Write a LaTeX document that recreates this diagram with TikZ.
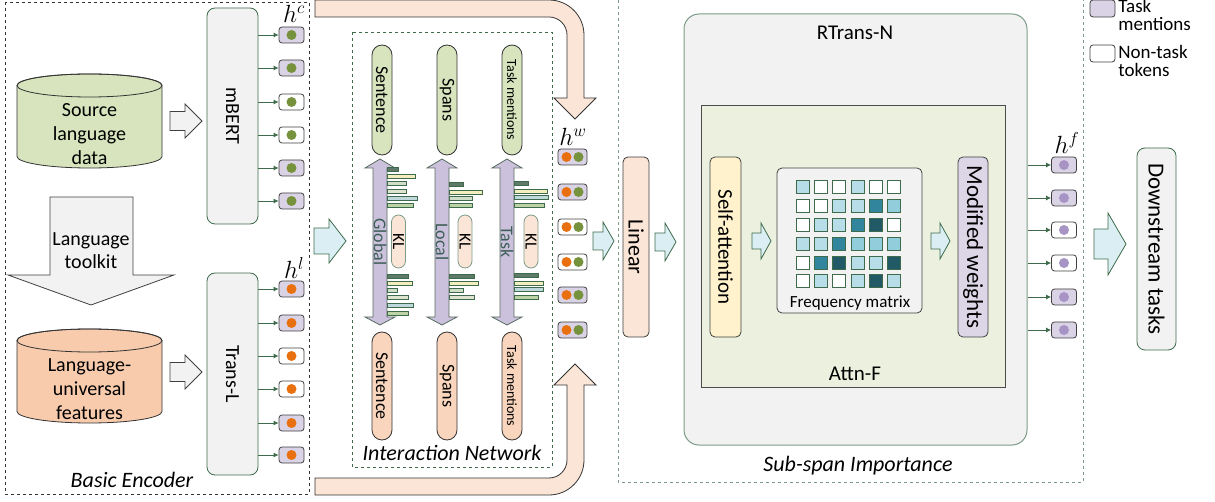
\documentclass[tikz,border=0pt]{standalone}
\usepackage{fontspec}
\setmainfont{Carlito}
\usepackage{graphicx}
\usetikzlibrary{arrows.meta}

\definecolor{grayfill}{HTML}{F2F2F2}
\definecolor{greenfill}{HTML}{D7E4BD}
\definecolor{orangefill}{HTML}{F8CBAD}
\definecolor{peachfill}{HTML}{FBE5D6}
\definecolor{bluefill}{HTML}{DAEEF3}
\definecolor{tokfill}{HTML}{DAD3E5}
\definecolor{attnfill}{HTML}{EBF1DE}
\definecolor{selffill}{HTML}{FFF2CC}
\definecolor{modfill}{HTML}{DDD6E7}
\definecolor{dblfill}{HTML}{CBC1DC}
\definecolor{edgegreen}{HTML}{3E6B4C}
\definecolor{framegreen}{HTML}{7C9C88}
\definecolor{dotgreen}{HTML}{76923C}
\definecolor{dotorange}{HTML}{E8700F}
\definecolor{dotpurple}{HTML}{A793C4}
\definecolor{labgreen}{HTML}{3D5E57}
\definecolor{barA}{HTML}{5F7A69}
\definecolor{barB}{HTML}{F3EEBD}
\definecolor{barC}{HTML}{CFDDC9}
\definecolor{barD}{HTML}{DFE4D0}
\definecolor{barE}{HTML}{BFD8DB}
\definecolor{barF}{HTML}{BCD3A6}
\definecolor{mW}{HTML}{FFFFFF}
\definecolor{mL}{HTML}{B7DEE8}
\definecolor{mM}{HTML}{92CDDC}
\definecolor{mD}{HTML}{31859C}
\definecolor{mE}{HTML}{215967}

% block arrow pointing right: style, x start, x head, x tip, y, shaft half, head half
\newcommand{\rblock}[7]{%
  \draw[#1] (#2,#5-#6) -- (#3,#5-#6) -- (#3,#5-#7) -- (#4,#5)
    -- (#3,#5+#7) -- (#3,#5+#6) -- (#2,#5+#6) -- cycle;}

\begin{document}
\begin{tikzpicture}[x=1pt,y=-1pt,line width=0.8pt,
  lbl/.style={font=\fontsize{20}{24}\selectfont, align=center},
  capt/.style={font=\fontsize{22}{26}\selectfont\itshape},
  hlabel/.style={font=\fontsize{24}{28}\selectfont},
  legtext/.style={font=\fontsize{19}{18}\selectfont, align=left, anchor=west, inner sep=1pt},
  encbox/.style={draw=edgegreen, fill=grayfill, rounded corners=8pt, inner sep=0pt, font=\fontsize{20}{24}\selectfont},
  innerbox/.style={draw=black!75, rounded corners=5pt, inner sep=0pt},
  menttok/.style={draw=black!75, fill=tokfill, rounded corners=3pt, minimum width=25pt, minimum height=16pt, inner sep=0pt},
  othertok/.style={menttok, fill=white},
  tokarrow/.style={draw=edgegreen, -{Latex[length=5pt,width=5pt]}},
  cyl/.style={draw=black!80},
  gblock/.style={draw=black!75, fill=grayfill},
  bblock/.style={draw=edgegreen, fill=bluefill},
  oband/.style={draw=black!80, fill=peachfill},
  pill/.style={draw=black!80, rounded corners=10pt, minimum width=20pt, inner sep=0pt, font=\fontsize{18}{20}\selectfont},
  klpill/.style={draw=framegreen, fill=peachfill, rounded corners=7pt, minimum width=14pt, minimum height=53pt, inner sep=0pt, font=\fontsize{17}{20}\selectfont},
  dbl/.style={draw=framegreen!70!black, fill=dblfill},
  bar/.style={draw=edgegreen, line width=0.6pt},
  cell/.style={draw=edgegreen, line width=1pt}]

\useasboundingbox (0,0) rectangle (1215,502);

% frames
\draw[dashed, black!80] (5,2) rectangle (309,494);
\node[capt] (enc) at (132,480) {Basic Encoder};
\draw[dashed, edgegreen] (352,32) rectangle (552,467);
\node[capt] (inet) at (452,453) {Interaction Network};
\draw[dashed, framegreen] (618,0) -- (618,482) -- (1083,482) -- (1083,0);
\node[capt] (ssi) at (858,466) {Sub-span Importance};

% basic encoder
\draw[cyl, fill=greenfill] (17,85.5) -- (17,156.5) arc[start angle=180, end angle=0, x radius=72.5, y radius=11.5]
  -- (162,85.5) arc[start angle=0, end angle=-180, x radius=72.5, y radius=11.5] -- cycle;
\draw[cyl] (89.5,85.5) ellipse [x radius=72.5, y radius=11.5];
\node[lbl] (src) at (89.5,134) {Source\\language\\data};

\draw[cyl, fill=orangefill] (17,340.5) -- (17,411.5) arc[start angle=180, end angle=0, x radius=72.5, y radius=11.5]
  -- (162,340.5) arc[start angle=0, end angle=-180, x radius=72.5, y radius=11.5] -- cycle;
\draw[cyl] (89.5,340.5) ellipse [x radius=72.5, y radius=11.5];
\node[lbl] (feat) at (89.5,389) {Language-\\universal\\features};

\draw[gblock] (50,197) -- (133,197) -- (133,275) -- (174,275) -- (91,305) -- (8,275) -- (50,275) -- cycle;
\node[lbl, font=\fontsize{20}{23}\selectfont] (ltk) at (91,251) {Language\\toolkit};

\rblock{gblock}{170}{185}{202}{121}{9.5}{17}
\rblock{gblock}{170}{185}{202}{372}{9.5}{17}

\node[encbox, minimum width=51pt, minimum height=216pt] (mbert) at (232.5,116) {\rotatebox{-90}{mBERT}};
\node[encbox, minimum width=51pt, minimum height=202pt] (transl) at (232.5,374) {\rotatebox{-90}{Trans-L}};

\node[menttok] (c1) at (291.5,35) {};
\node[menttok] (c2) at (291.5,68) {};
\node[othertok] (c3) at (291.5,102) {};
\node[othertok] (c4) at (291.5,135) {};
\node[menttok] (c5) at (291.5,168) {};
\node[menttok] (c6) at (291.5,201) {};
\node[hlabel] (hc) at (294,14) {$h^c$};

\node[menttok] (l1) at (291.5,289) {};
\node[menttok] (l2) at (291.5,323) {};
\node[othertok] (l3) at (291.5,356) {};
\node[othertok] (l4) at (291.5,389) {};
\node[menttok] (l5) at (291.5,423) {};
\node[menttok] (l6) at (291.5,455) {};
\node[hlabel] (hl) at (294,268) {$h^l$};

\foreach \i in {1,...,6} {
  \draw[tokarrow] (mbert.east |- c\i) -- (c\i);
  \fill[dotgreen] (c\i) circle (5);
  \draw[tokarrow] (transl.east |- l\i) -- (l\i);
  \fill[dotorange] (l\i) circle (5);
}

\rblock{bblock}{314}{329}{346}{241}{13}{22}

% orange bands
\draw[oband] (315,0) -- (549,0) arc[start angle=270, end angle=360, radius=35] -- (584,98) -- (596,98)
  -- (575,119) -- (554,98) -- (567,98) -- (567,35) arc[start angle=360, end angle=270, radius=18] -- (315,17) -- cycle;
\draw[oband] (315,495) -- (549,495) arc[start angle=90, end angle=0, radius=35] -- (584,385) -- (596,385)
  -- (575,364) -- (554,385) -- (567,385) -- (567,460) arc[start angle=0, end angle=90, radius=18] -- (315,478) -- cycle;

% interaction network
\node[pill, fill=greenfill, minimum height=110pt] (gsent) at (382,100) {\rotatebox{-90}{Sentence}};
\node[pill, fill=greenfill, minimum height=110pt] (gspan) at (447,100) {\rotatebox{-90}{Spans}};
\node[pill, fill=greenfill, minimum height=110pt] (gtask) at (512,100) {\rotatebox{-90}{\fontsize{14}{16}\selectfont Task mentions}};
\node[pill, fill=orangefill!80, minimum height=108pt] (osent) at (382,386) {\rotatebox{-90}{Sentence}};
\node[pill, fill=orangefill!80, minimum height=108pt] (ospan) at (447,386) {\rotatebox{-90}{Spans}};
\node[pill, fill=orangefill!80, minimum height=108pt] (otask) at (512,386) {\rotatebox{-90}{\fontsize{14}{16}\selectfont Task mentions}};

\foreach \cx/\nm in {380/Global, 442/Local, 507/Task} {
  \draw[dbl] (\cx-7,168) -- (\cx-15,168) -- (\cx,159) -- (\cx+15,168) -- (\cx+7,168) -- (\cx+7,317)
    -- (\cx+15,317) -- (\cx,325) -- (\cx-15,317) -- (\cx-7,317) -- cycle;
  \node[font=\fontsize{18}{20}\selectfont, text=labgreen] at (\cx,242) {\rotatebox{-90}{\nm}};
}

\foreach \bx/\by/\bl/\bc in {387/169/11/barA, 387/176/28/barB, 387/183/19/barC, 387/191/19/barD, 387/198/30/barE, 387/205/26/barF,
  387/276/21/barA, 387/283/25/barB, 387/290/10/barC, 387/297/21/barD, 387/305/26/barE, 387/313/21/barF,
  449/184/14/barA, 449/192/33/barB, 449/198/23/barC, 449/205/23/barF,
  449/276/25/barA, 449/283/29/barB, 449/290/14/barC, 449/297/25/barD,
  514/183/14/barA, 514/191/33/barB, 514/197/34/barE, 514/205/30/barF,
  514/275/24/barA, 514/283/29/barB, 514/289/29/barE, 514/297/24/barF}
  \draw[bar, fill=\bc] (\bx,\by-2) rectangle ++(\bl,4);

\node[klpill] (kl1) at (398.5,241.5) {\rotatebox{-90}{KL}};
\node[klpill] (kl2) at (465,241.5) {\rotatebox{-90}{KL}};
\node[klpill] (kl3) at (531,241.5) {\rotatebox{-90}{KL}};

% word tokens
\node[menttok, minimum width=29pt] (w1) at (572.5,157) {};
\node[menttok, minimum width=29pt] (w2) at (572.5,192) {};
\node[othertok, minimum width=29pt] (w3) at (572.5,227) {};
\node[othertok, minimum width=29pt] (w4) at (572.5,262) {};
\node[menttok, minimum width=29pt] (w5) at (572.5,295) {};
\node[menttok, minimum width=29pt] (w6) at (572.5,330) {};
\node[hlabel] (hw) at (573,137) {$h^w$};
\foreach \i in {1,...,6} {
  \fill[dotorange] (w\i) ++(-6,0) circle (5);
  \fill[dotgreen] (w\i) ++(6,0) circle (5);
}

\rblock{bblock}{593}{603}{614}{241}{9}{19}
\node[innerbox, fill=peachfill, minimum width=26pt, minimum height=180pt, font=\fontsize{22}{26}\selectfont] (lin) at (636,247) {\rotatebox{-90}{Linear}};
\rblock{bblock}{655}{665}{676}{242}{9}{19}

% sub-span importance
\node[draw=framegreen, fill=grayfill, rounded corners=15pt, minimum width=343pt, minimum height=431pt, line width=1pt] (rtn) at (855.5,229.5) {};
\node[font=\fontsize{21}{25}\selectfont] (rtnlab) at (855,33) {RTrans-N};
\node[draw=black!70, fill=attnfill, minimum width=304pt, minimum height=282pt, inner sep=0pt] (attn) at (853,246) {};
\node[font=\fontsize{21}{25}\selectfont] (attnlab) at (855,374) {Attn-F};

\node[innerbox, fill=selffill, minimum width=31pt, minimum height=180pt, font=\fontsize{21}{25}\selectfont] (selfatt) at (725.5,247) {\rotatebox{-90}{Self-attention}};
\rblock{bblock}{752}{761}{771}{241}{8}{18}
\node[innerbox, fill=grayfill, minimum width=145pt, minimum height=145pt] (freq) at (849.5,240.5) {};
\node[font=\fontsize{17}{20}\selectfont] (freqlab) at (850,303) {Frequency matrix};
\foreach \r/\vals in {1/{L,W,W,L,W,W}, 2/{W,W,L,L,D,M}, 3/{W,L,L,D,E,W}, 4/{L,L,D,M,M,M}, 5/{W,D,E,L,L,E}, 6/{W,L,W,L,E,L}}
  \foreach \v [count=\j] in \vals
    \draw[cell, fill=m\v] ({803+(\j-1)*18.2-6.5},{187+(\r-1)*18.9-6.5}) rectangle ++(13,13);
\rblock{bblock}{931}{940}{950}{241}{8}{18}
\node[innerbox, fill=modfill, minimum width=30pt, minimum height=180pt, font=\fontsize{23}{27}\selectfont] (modw) at (973,247) {\rotatebox{-90}{Modified weights}};

% final tokens
\node[menttok] (f1) at (1064,165) {};
\node[menttok] (f2) at (1064,198) {};
\node[othertok] (f3) at (1064,230) {};
\node[othertok] (f4) at (1064,263) {};
\node[menttok] (f5) at (1064,297) {};
\node[menttok] (f6) at (1064,330) {};
\node[hlabel] (hf) at (1067,143) {$h^f$};
\foreach \i in {1,...,6} {
  \draw[tokarrow] (rtn.east |- f\i) -- (f\i);
  \fill[dotpurple] (f\i) circle (5);
}

\rblock{bblock}{1094}{1108}{1126}{244}{15}{31}
\node[encbox, minimum width=39pt, minimum height=202pt, font=\fontsize{23}{27}\selectfont] (down) at (1156.5,249) {\rotatebox{-90}{Downstream tasks}};

% legend
\node[menttok, minimum height=17pt] (legm) at (1102.5,8.5) {};
\node[legtext] (legmt) at (1117,15) {Task\\mentions};
\node[othertok, minimum height=17pt] (lego) at (1102.5,53.5) {};
\node[legtext] (legot) at (1117,61) {Non-task\\tokens};

\end{tikzpicture}
\end{document}
